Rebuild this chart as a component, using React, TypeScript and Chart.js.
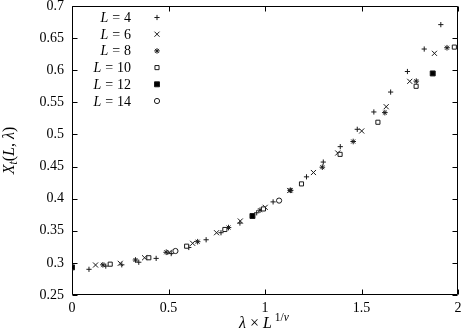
import React, { useEffect, useRef } from 'react';
import { Chart, registerables } from 'chart.js';
import { drawPoint } from 'chart.js/helpers';

Chart.register(...registerables);

// ---- data ----
const L4_X = [0.088, 0.175, 0.258, 0.346, 0.436, 0.514, 0.605, 0.695, 0.772, 0.870, 0.957, 1.042, 1.130, 1.215, 1.302, 1.390, 1.478, 1.564, 1.651, 1.738, 1.825, 1.911];
const L4_Y = [0.290, 0.295, 0.297, 0.301, 0.307, 0.3145, 0.324, 0.336, 0.347, 0.362, 0.378, 0.395, 0.413, 0.434, 0.457, 0.481, 0.508, 0.535, 0.566, 0.598, 0.633, 0.671];

const L6_X = [0.122, 0.250, 0.376, 0.505, 0.625, 0.749, 0.872, 1.001, 1.128, 1.251, 1.377, 1.501, 1.628, 1.750, 1.878];
const L6_Y = [0.2967, 0.2993, 0.308, 0.3165, 0.3305, 0.347, 0.3652, 0.3865, 0.4127, 0.4407, 0.4711, 0.5054, 0.5432, 0.5827, 0.6263];

const L8_X = [0.160, 0.329, 0.488, 0.651, 0.811, 0.974, 1.133, 1.297, 1.457, 1.621, 1.784, 1.943];
const L8_Y = [0.297, 0.3045, 0.3165, 0.333, 0.355, 0.382, 0.413, 0.449, 0.489, 0.534, 0.583, 0.635];

const L10_X = [0.198, 0.398, 0.594, 0.792, 0.992, 1.189, 1.389, 1.585, 1.783, 1.981];
const L10_Y = [0.298, 0.308, 0.326, 0.352, 0.384, 0.423, 0.469, 0.519, 0.575, 0.636];

const L12_X = [0, 0.935, 1.869];
const L12_Y = [0.293, 0.373, 0.595];

const L14_X = [0.536, 1.073];
const L14_Y = [0.3185, 0.397];

const SERIES_LABELS = ['4', '6', '8', '10', '12', '14'];

const X_MIN = 0, X_MAX = 2, X_STEP = 0.5;
const Y_MIN = 0.25, Y_MAX = 0.7, Y_STEP = 0.05;

const FONT = '"Liberation Serif", "DejaVu Serif", serif';
const INK = '#1a1a1a';

const toPts = (xs: number[], ys: number[]) => xs.map((x, i) => ({ x, y: ys[i] }));

const STYLES = [
  { pointStyle: 'cross', radius: 2.6, fill: 'rgba(0,0,0,0)' },
  { pointStyle: 'crossRot', radius: 3.6, fill: 'rgba(0,0,0,0)' },
  { pointStyle: 'star', radius: 2.8, fill: 'rgba(0,0,0,0)' },
  { pointStyle: 'rect', radius: 2.9, fill: '#fff' },
  { pointStyle: 'rect', radius: 3.5, fill: '#000' },
  { pointStyle: 'circle', radius: 2.6, fill: '#fff' },
];

const SERIES = [
  [L4_X, L4_Y],
  [L6_X, L6_Y],
  [L8_X, L8_Y],
  [L10_X, L10_Y],
  [L12_X, L12_Y],
  [L14_X, L14_Y],
];

const fmt = (v: number) => String(+Number(v).toFixed(2));

const framePlugin = {
  id: 'frame',
  beforeDatasetsDraw(chart: any) {
    const { ctx, chartArea: a, scales } = chart;
    const l = Math.round(a.left) + 0.5;
    const r = Math.round(a.right) - 0.5;
    const t = Math.round(a.top) + 0.5;
    const b = Math.round(a.bottom) - 0.5;
    ctx.save();
    ctx.strokeStyle = '#000';
    ctx.lineWidth = 1;
    ctx.beginPath();
    ctx.rect(l, t, r - l, b - t);
    const tl = 5;
    scales.y.ticks.forEach((tk: any) => {
      const py = Math.round(scales.y.getPixelForValue(tk.value)) + 0.5;
      ctx.moveTo(l, py); ctx.lineTo(l + tl, py);
      ctx.moveTo(r, py); ctx.lineTo(r - tl, py);
    });
    scales.x.ticks.forEach((tk: any) => {
      const px = Math.round(scales.x.getPixelForValue(tk.value)) + 0.5;
      ctx.moveTo(px, b); ctx.lineTo(px, b - tl);
      ctx.moveTo(px, t); ctx.lineTo(px, t + tl);
    });
    ctx.stroke();
    ctx.restore();
  },
};

const textPlugin = {
  id: 'texts',
  afterDraw(chart: any) {
    const { ctx, chartArea: a } = chart;
    ctx.save();
    ctx.fillStyle = '#000';
    ctx.textBaseline = 'alphabetic';
    ctx.textAlign = 'left';
    const it = `italic 14px ${FONT}`;
    const rm = `14px ${FONT}`;

    // legend
    const rightX = 131;
    const sym = 157;
    SERIES_LABELS.forEach((lab, i) => {
      const yc = 17.5 + i * 16.7;
      const base = yc + 4.5;
      ctx.font = rm;
      const wn = ctx.measureText(lab).width;
      const weq = ctx.measureText('=').width;
      let x = rightX - wn;
      ctx.fillText(lab, x, base);
      x -= 3.9 + weq;
      ctx.fillText('=', x, base);
      ctx.font = it;
      const wl = ctx.measureText('L').width;
      x -= 3.9 + wl;
      ctx.fillText('L', x, base);
      const st = STYLES[i];
      ctx.fillStyle = st.fill;
      ctx.strokeStyle = INK;
      ctx.lineWidth = 1;
      drawPoint(ctx, { pointStyle: st.pointStyle as any, radius: st.radius, rotation: 0, borderWidth: 1 }, sym, yc);
      ctx.fillStyle = '#000';
    });

    const tit = `italic 16px ${FONT}`;
    const trm = `16px ${FONT}`;
    const tsm = `italic 11.5px ${FONT}`;
    const tsmr = `11.5px ${FONT}`;

    // x title: λ × L^{1/ν}
    const parts: [string, string, number][] = [
      ['λ', tit, 0], [' × ', trm, 0], ['L', tit, 0], [' ', tsmr, 0], ['1/', tsmr, -7], ['ν', tsm, -7],
    ];
    let total = 0;
    parts.forEach(([s, f]) => { ctx.font = f; total += ctx.measureText(s).width; });
    let x0 = 264 - total / 2;
    const by = 328;
    parts.forEach(([s, f, dy]) => { ctx.font = f; ctx.fillText(s, x0, by + dy); x0 += ctx.measureText(s).width; });

    // y title: X_t(L, λ)
    const yparts: [string, string, number][] = [
      ['X', tit, 0], ['t', tsm, 3], ['(', trm, 0], ['L', tit, 0], [', ', trm, 0], ['λ', tit, 0], [')', trm, 0],
    ];
    ctx.save();
    ctx.translate(14, (a.top + a.bottom) / 2);
    ctx.rotate(-Math.PI / 2);
    let tot2 = 0;
    yparts.forEach(([s, f]) => { ctx.font = f; tot2 += ctx.measureText(s).width; });
    let xx = -tot2 / 2;
    yparts.forEach(([s, f, dy]) => { ctx.font = f; ctx.fillText(s, xx, dy); xx += ctx.measureText(s).width; });
    ctx.restore();

    ctx.restore();
  },
};

export default function App() {
  const ref = useRef<HTMLCanvasElement | null>(null);
  useEffect(() => {
    document.body.style.margin = '0';
    const canvas = ref.current!;
    const datasets = SERIES.map(([xs, ys], i) => ({
      label: 'L = ' + SERIES_LABELS[i],
      data: toPts(xs, ys),
      pointStyle: STYLES[i].pointStyle as any,
      pointRadius: STYLES[i].radius,
      pointBorderWidth: 1,
      pointBorderColor: INK,
      pointBackgroundColor: STYLES[i].fill,
      showLine: false,
      order: SERIES.length - i,
    }));
    const chart = new Chart(canvas, {
      type: 'scatter',
      data: { datasets },
      options: {
        animation: false,
        responsive: false,
        devicePixelRatio: 1,
        layout: { padding: { top: 6, right: 4, left: 0, bottom: 0 } },
        plugins: { legend: { display: false }, tooltip: { enabled: false } },
        scales: {
          x: {
            type: 'linear',
            min: X_MIN, max: X_MAX,
            grid: { display: false, drawTicks: false },
            border: { display: false },
            ticks: {
              stepSize: X_STEP,
              color: '#000',
              padding: 5,
              maxRotation: 0,
              font: { family: FONT, size: 14 },
              callback: (v: any) => fmt(v),
            },
            afterFit: (s: any) => { s.height = 38; s.paddingLeft = 0; s.paddingRight = 0; },
          },
          y: {
            type: 'linear',
            min: Y_MIN, max: Y_MAX,
            grid: { display: false, drawTicks: false },
            border: { display: false },
            ticks: {
              stepSize: Y_STEP,
              color: '#000',
              padding: 8,
              font: { family: FONT, size: 14 },
              callback: (v: any) => fmt(v),
            },
            afterFit: (s: any) => { s.width = 72; s.paddingTop = 0; s.paddingBottom = 0; },
          },
        },
      },
      plugins: [framePlugin, textPlugin],
    });
    return () => chart.destroy();
  }, []);
  return (
    <div style={{ position: 'absolute', left: 0, top: 0, width: 463, height: 333, background: '#fff' }}>
      <canvas ref={ref} width={463} height={333} style={{ width: 463, height: 333, display: 'block' }} />
    </div>
  );
}
